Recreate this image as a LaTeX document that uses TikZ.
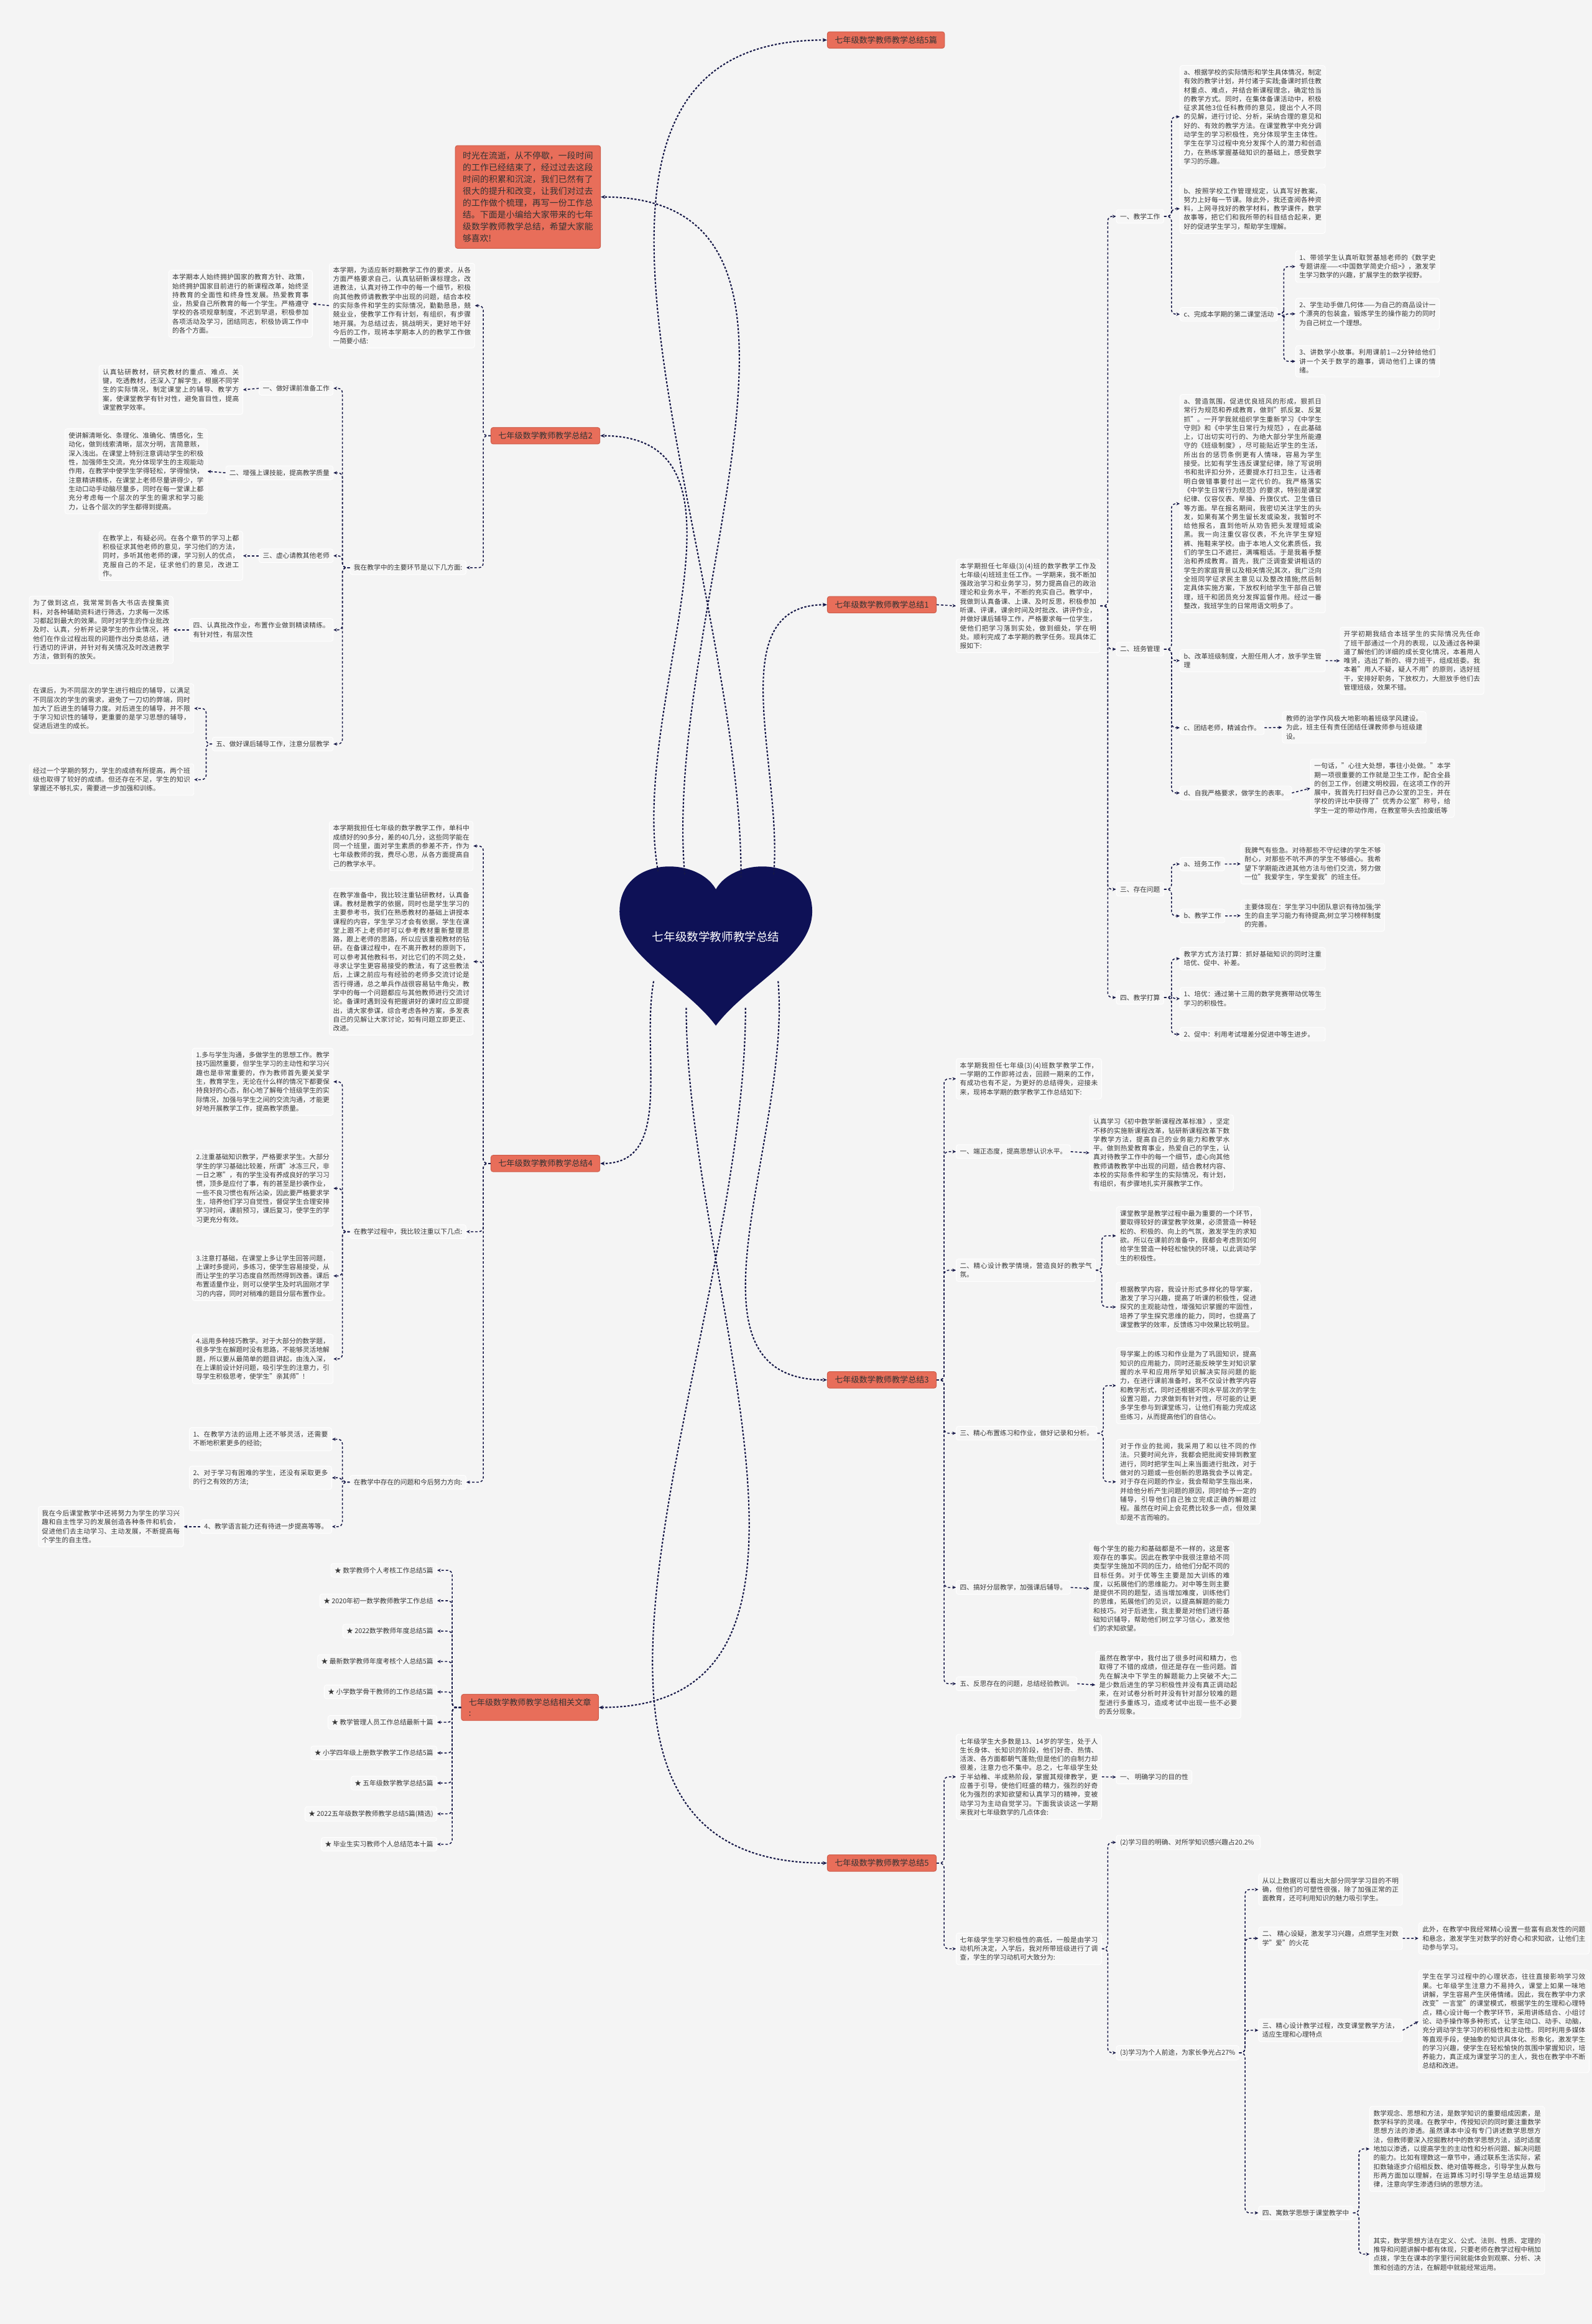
\documentclass[tikz,border=0pt]{standalone}
\usepackage{fontspec}
\setmainfont{Noto Sans CJK SC}
\usepackage{tikz}
\usetikzlibrary{arrows.meta, positioning, calc}
\XeTeXlinebreaklocale "zh"
\XeTeXlinebreakskip=0pt plus 1pt
\definecolor{pagegray}  {RGB}{244,244,244}
\definecolor{boxfill}   {RGB}{247,247,247}
\definecolor{txtgray}   {RGB}{55,55,55}
\definecolor{branchred} {RGB}{232,110,90}
\definecolor{branchdark}{RGB}{205,92,74}
\definecolor{heartnavy} {RGB}{14,17,86}
\definecolor{linenavy}  {RGB}{22,24,72}
\tikzset{
	box/.style={draw=white, fill=boxfill, rounded corners=1.5pt, inner sep=2.5pt, text=txtgray, font=\fontsize{4.5}{6.0}\selectfont},
	leaf/.style={box, text width=#1pt, align=justify},
	lbl/.style={box, align=left},
	branch/.style={draw=branchdark, fill=branchred, rounded corners=1.5pt, inner xsep=5pt, inner ysep=3pt, text=black!80, font=\fontsize{5.5}{7}\selectfont},
	trunk/.style={draw=linenavy, line width=0.9pt, dash pattern=on 1.4pt off 1.1pt, -{Stealth[length=3pt,width=2.6pt]}},
	twig/.style={draw=linenavy, line width=0.65pt, dash pattern=on 1.6pt off 1.3pt, rounded corners=3pt, -{Stealth[length=2.4pt,width=2.2pt]}}
}
\begin{document}
\begin{tikzpicture}[x=1pt,y=1pt]
\fill[pagegray] (0,0) rectangle (1074,-1568);
\useasboundingbox (0,0) rectangle (1074,-1568);
% heart
\fill[heartnavy] (483,-600) .. controls (470,-577) and (418,-578) .. (418,-615) .. controls (418,-645) and (462,-664) .. (483,-692) .. controls (504,-664) and (548,-645) .. (548,-615) .. controls (548,-578) and (496,-577) .. (483,-600) -- cycle;
\node[text=white, font=\fontsize{7.8}{9}\selectfont] (heart) at (483,-632) {七年级数学教师教学总结};
\coordinate (h1) at (500,-592); \coordinate (h2) at (522,-590);
\coordinate (h3) at (525,-662); \coordinate (h4) at (503,-680);
\coordinate (h5) at (462,-590); \coordinate (h6) at (444,-588);
\coordinate (h7) at (441,-662); \coordinate (h8) at (463,-680);
% branches
\node[branch, anchor=north west, text width=88pt, inner xsep=5pt, inner ysep=4pt, align=justify, font=\fontsize{5.8}{8}\selectfont] (intro) at (307,-98) {时光在流逝，从不停歇，一段时间的工作已经结束了，经过过去这段时间的积累和沉淀，我们已然有了很大的提升和改变，让我们对过去的工作做个梳理，再写一份工作总结。下面是小编给大家带来的七年级数学教师教学总结，希望大家能够喜欢!};
\node[branch, anchor=west] (b5p) at (558,-27) {七年级数学教师教学总结5篇};
\node[branch, anchor=west] (b1) at (558,-408) {七年级数学教师教学总结1};
\node[branch, anchor=west] (b3) at (558,-931) {七年级数学教师教学总结3};
\node[branch, anchor=west] (b5) at (558,-1257) {七年级数学教师教学总结5};
\node[branch, anchor=east] (b2) at (405,-294) {七年级数学教师教学总结2};
\node[branch, anchor=east] (b4) at (405,-785) {七年级数学教师教学总结4};
\node[branch, anchor=east, align=left] (rel) at (404,-1152) {七年级数学教师教学总结相关文章\\:};
\draw[trunk] (h1) to[out=90,in=180] (b5p.west);
\draw[trunk] (h2) to[out=85,in=180] (b1.west);
\draw[trunk] (h3) to[out=-85,in=180] (b3.west);
\draw[trunk] (h4) to[out=-90,in=180] (b5.west);
\draw[trunk] (h5) to[out=95,in=0] (intro.east);
\draw[trunk] (h6) to[out=100,in=0] (b2.east);
\draw[trunk] (h7) to[out=-100,in=0] (b4.east);
\draw[trunk] (h8) to[out=-90,in=0] (rel.east);
% summary 1
\node[leaf=92, anchor=north west] (p1in) at (645,-377) {本学期担任七年级(3)(4)班的数学教学工作及七年级(4)班班主任工作。一学期来，我不断加强政治学习和业务学习，努力提高自己的政治理论和业务水平，不断的充实自己。教学中，我做到认真备课、上课、及时反思，积极参加听课、评课，课余时间及时批改、讲评作业，并做好课后辅导工作，严格要求每一位学生，使他们把学习落到实处，做到细处，学在明处。顺利完成了本学期的教学任务。现具体汇报如下:};
\node[lbl, anchor=west] (t1) at (753,-146) {一、教学工作};
\node[lbl, anchor=west] (t2) at (753,-438) {二、班务管理};
\node[lbl, anchor=west] (t3) at (753,-600) {三、存在问题};
\node[lbl, anchor=west] (t4) at (753,-673) {四、教学打算};
\node[leaf=93, anchor=north west] (t1a) at (796,-44) {a、根据学校的实际情形和学生具体情况，制定有效的教学计划，并付诸于实践;备课时抓住教材重点、难点，并结合新课程理念，确定恰当的教学方式。同时，在集体备课活动中，积极征求其他3位任科教师的意见，提出个人不同的见解，进行讨论、分析，采纳合理的意见和好的、有效的教学方法。在课堂教学中充分调动学生的学习积极性，充分体现学生主体性。学生在学习过程中充分发挥个人的潜力和创造力，在熟练掌握基础知识的基础上，感受数学学习的乐趣。};
\node[leaf=93, anchor=north west] (t1b) at (796,-124) {b、按照学校工作管理规定，认真写好教案，努力上好每一节课。除此外，我还查阅各种资料，上网寻找好的教学材料，教学课件，数学故事等，把它们和我所带的科目结合起来，更好的促进学生学习，帮助学生理解。};
\node[lbl, anchor=west] (t1c) at (796,-212) {c、完成本学期的第二课堂活动};
\node[leaf=92, anchor=north west] (c1) at (874,-169) {1、带领学生认真听取贺基旭老师的《数学史专题讲座——<中国数学简史介绍>》，激发学生学习数学的兴趣，扩展学生的数学视野。};
\node[leaf=92, anchor=north west] (c2) at (874,-201) {2、学生动手做几何体——为自己的商品设计一个漂亮的包装盒，锻炼学生的操作能力的同时为自己树立一个理想。};
\node[leaf=92, anchor=north west] (c3) at (874,-233) {3、讲数学小故事。利用课前1—2分钟给他们讲一个关于数学的趣事，调动他们上课的情绪。};
\node[leaf=93, anchor=north west] (t2a) at (796,-266) {a、营造氛围，促进优良班风的形成，狠抓日常行为规范和养成教育，做到"抓反复、反复抓"。一开学我就组织学生重新学习《中学生守则》和《中学生日常行为规范》，在此基础上，订出切实可行的、为绝大部分学生所能遵守的《班级制度》，尽可能贴近学生的生活，所出台的惩罚条例更有人情味，容易为学生接受。比如有学生违反课堂纪律，除了写说明书和批评扣分外，还要提水打扫卫生，让违者明白做错事要付出一定代价的。我严格落实《中学生日常行为规范》的要求，特别是课堂纪律、仪容仪表、早操、升旗仪式、卫生值日等方面。早在报名期间，我密切关注学生的头发，如果有某个男生留长发或染发，我暂时不给他报名，直到他听从劝告把头发理短或染黑。我一向注重仪容仪表，不允许学生穿短裤、拖鞋来学校。由于本地人文化素质低，我们的学生口不遮拦，满嘴粗话。于是我着手整治和养成教育。首先，我广泛调查爱讲粗话的学生的家庭背景以及相关情况;其次，我广泛向全班同学征求民主意见以及整改措施;然后制定具体实施方案，下放权利给学生干部自己管理，班干和团员充分发挥监督作用。经过一番整改，我班学生的日常用语文明多了。};
\node[leaf=93, anchor=north west] (t2b) at (796,-438) {b、改革班级制度，大胆任用人才，放手学生管理};
\node[leaf=92, anchor=north west] (t2bl) at (904,-423) {开学初期我结合本班学生的实际情况先任命了班干部通过一个月的表现，以及通过各种渠道了解他们的详细的成长变化情况，本着用人唯贤，选出了新的、得力班干，组成班委。我本着"用人不疑，疑人不用"的原则，选好班干，安排好职务，下放权力，大胆放手他们去管理班级，效果不错。};
\node[lbl, anchor=west] (t2c) at (796,-491) {c、团结老师，精诚合作。};
\node[leaf=92, anchor=north west] (t2cl) at (865,-480) {教师的治学作风极大地影响着班级学风建设。为此，班主任有责任团结任课教师参与班级建设。};
\node[lbl, anchor=west] (t2d) at (796,-535) {d、自我严格要求，做学生的表率。};
\node[leaf=92, anchor=north west] (t2dl) at (884,-512) {一句话，"心往大处想，事往小处做。"本学期一项很重要的工作就是卫生工作，配合全县的创卫工作，创建文明校园，在这项工作的开展中，我首先打扫好自己办公室的卫生，并在学校的评比中获得了"优秀办公室"称号，给学生一定的带动作用，在教室带头去捡废纸等};
\node[lbl, anchor=west] (t3a) at (796,-583) {a、班务工作};
\node[leaf=92, anchor=north west] (t3al) at (837,-569) {我脾气有些急。对待那些不守纪律的学生不够耐心，对那些不吭不声的学生不够细心。我希望下学期能改进其他方法与他们交流，努力做一位"我爱学生，学生爱我"的班主任。};
\node[lbl, anchor=west] (t3b) at (796,-618) {b、教学工作};
\node[leaf=92, anchor=north west] (t3bl) at (837,-607) {主要体现在：学生学习中团队意识有待加强;学生的自主学习能力有待提高;树立学习榜样制度的完善。};
\node[leaf=93, anchor=north west] (t4a) at (796,-639) {教学方式方法打算：抓好基础知识的同时注重培优、促中、补差。};
\node[leaf=93, anchor=north west] (t4b) at (796,-666) {1、培优：通过第十三周的数学竞赛带动优等生学习的积极性。};
\node[leaf=93, anchor=north west] (t4c) at (796,-693) {2、促中：利用考试增差分促进中等生进步。};
\draw[twig] (b1.east) -- (p1in.west);
\foreach \n in {t1,t2,t3,t4}{\draw[twig] (p1in.east) -- ++(5,0) |- (\n.west);}
\foreach \n in {t1a,t1b,t1c}{\draw[twig] (t1.east) -- ++(5,0) |- (\n.west);}
\foreach \n in {c1,c2,c3}{\draw[twig] (t1c.east) -- ++(4,0) |- (\n.west);}
\foreach \n in {t2a,t2b,t2c,t2d}{\draw[twig] (t2.east) -- ++(5,0) |- (\n.west);}
\draw[twig] (t2b.east) -- (t2bl.west);
\draw[twig] (t2c.east) -- (t2cl.west);
\draw[twig] (t2d.east) -- (t2dl.west);
\foreach \n in {t3a,t3b}{\draw[twig] (t3.east) -- ++(5,0) |- (\n.west);}
\draw[twig] (t3a.east) -- (t3al.west);
\draw[twig] (t3b.east) -- (t3bl.west);
\foreach \n in {t4a,t4b,t4c}{\draw[twig] (t4.east) -- ++(5,0) |- (\n.west);}
% summary 3
\node[leaf=93, anchor=north west] (in3) at (645,-714) {本学期我担任七年级(3)(4)班数学教学工作，一学期的工作即将过去，回顾一期来的工作，有成功也有不足，为更好的总结得失，迎接未来，现将本学期的数学教学工作总结如下:};
\node[lbl, anchor=west] (s1) at (645,-777) {一、端正态度，提高思想认识水平。};
\node[leaf=89, anchor=west] (s2) at (645,-857) {二、精心设计教学情境，营造良好的教学气氛。};
\node[lbl, anchor=west] (s3) at (645,-967) {三、精心布置练习和作业，做好记录和分析。};
\node[lbl, anchor=west] (s4) at (645,-1071) {四、搞好分层教学，加强课后辅导。};
\node[lbl, anchor=west] (s5) at (645,-1136) {五、反思存在的问题，总结经验教训。};
\node[leaf=92, anchor=north west] (s1l) at (735,-752) {认真学习《初中数学新课程改革标准》，坚定不移的实施新课程改革，钻研新课程改革下数学教学方法，提高自己的业务能力和教学水平。做到热爱教育事业，热爱自己的学生，认真对待教学工作中的每一个细节，虚心向其他教师请教教学中出现的问题，结合教材内容、本校的实际条件和学生的实际情况，有计划，有组织，有步骤地扎实开展教学工作。};
\node[leaf=92, anchor=north west] (s2a) at (753,-814) {课堂教学是教学过程中最为重要的一个环节，要取得较好的课堂教学效果，必须营造一种轻松的、积极的、向上的气氛，激发学生的求知欲。所以在课前的准备中，我都会考虑到如何给学生营造一种轻松愉快的环境，以此调动学生的积极性。};
\node[leaf=92, anchor=north west] (s2b) at (753,-865) {根据教学内容，我设计形式多样化的导学案，激发了学习兴趣，提高了听课的积极性，促进探究的主观能动性，增强知识掌握的牢固性，培养了学生探究思维的能力，同时，也提高了课堂教学的效率，反馈练习中效果比较明显。};
\node[leaf=92, anchor=north west] (s3a) at (753,-909) {导学案上的练习和作业是为了巩固知识，提高知识的应用能力，同时还能反映学生对知识掌握的水平和应用所学知识解决实际问题的能力，在进行课前准备时，我不仅设计教学内容和教学形式，同时还根据不同水平层次的学生设置习题，力求做到有针对性，尽可能的让更多学生参与到课堂练习，让他们有能力完成这些练习，从而提高他们的自信心。};
\node[leaf=92, anchor=north west] (s3b) at (753,-971) {对于作业的批阅，我采用了和以往不同的作法。只要时间允许，我都会把批阅安排到教室进行，同时把学生叫上来当面进行批改，对于做对的习题或一些创新的思路我会予以肯定。对于存在问题的作业，我会帮助学生指出来，并给他分析产生问题的原因，同时给予一定的辅导，引导他们自己独立完成正确的解题过程。虽然在时间上会花费比较多一点，但效果却是不言而喻的。};
\node[leaf=92, anchor=north west] (s4l) at (735,-1040) {每个学生的能力和基础都是不一样的，这是客观存在的事实。因此在教学中我很注意给不同类型学生施加不同的压力，给他们分配不同的目标任务。对于优等生主要是加大训练的难度，以拓展他们的思维能力。对中等生则主要是提供不同的题型，适当增加难度，训练他们的思维，拓展他们的见识，以提高解题的能力和技巧。对于后进生，我主要是对他们进行基础知识辅导，帮助他们树立学习信心，激发他们的求知欲望。};
\node[leaf=93, anchor=north west] (s5l) at (739,-1114) {虽然在教学中，我付出了很多时间和精力，也取得了不错的成绩，但还是存在一些问题。首先在解决中下学生的解题能力上突破不大;二是少数后进生的学习积极性并没有真正调动起来，在对试卷分析时并没有针对部分较难的题型进行多重练习，造成考试中出现一些不必要的丢分现象。};
\foreach \n in {in3,s1,s2,s3,s4,s5}{\draw[twig] (b3.east) -- ++(5,0) |- (\n.west);}
\draw[twig] (s1.east) -- (s1l.west);
\foreach \n in {s2a,s2b}{\draw[twig] (s2.east) -- ++(4,0) |- (\n.west);}
\foreach \n in {s3a,s3b}{\draw[twig] (s3.east) -- ++(4,0) |- (\n.west);}
\draw[twig] (s4.east) -- (s4l.west);
\draw[twig] (s5.east) -- (s5l.west);
% summary 5
\node[leaf=93, anchor=north west] (in5a) at (645,-1170) {七年级学生大多数是13、14岁的学生，处于人生长身体、长知识的阶段，他们好奇、热情、活泼、各方面都朝气蓬勃;但是他们的自制力却很差，注意力也不集中。总之，七年级学生处于半幼稚、半成熟阶段，掌握其规律教学，更应善于引导，使他们旺盛的精力，强烈的好奇化为强烈的求知欲望和认真学习的精神，变被动学习为主动自觉学习。下面我谈谈这一学期来我对七年级数学的几点体会:};
\node[lbl, anchor=west] (q1) at (753,-1199) {一、 明确学习的目的性};
\node[leaf=93, anchor=north west] (in5b) at (645,-1304) {七年级学生学习积极性的高低，一般是由学习动机所决定，入学后，我对所带班级进行了调查，学生的学习动机可大致分为:};
\node[leaf=92, anchor=north west] (q2) at (753,-1238) {(2)学习目的明确、对所学知识感兴趣占20.2\%};
\node[lbl, anchor=west] (q3) at (753,-1385) {(3)学习为个人前途，为家长争光占27\%};
\node[leaf=92, anchor=north west] (r1) at (849,-1264) {从以上数据可以看出大部分同学学习目的不明确，但他们的可塑性很强，除了加强正常的正面教育，还可利用知识的魅力吸引学生。};
\node[leaf=92, anchor=north west] (r2) at (849,-1300) {二、 精心设疑，激发学习兴趣，点燃学生对数学"爱"的火花};
\node[leaf=92, anchor=north west] (r3) at (849,-1362) {三、精心设计教学过程，改变课堂教学方法，适应生理和心理特点};
\node[lbl, anchor=west] (r4) at (849,-1493) {四、寓数学思想于课堂教学中};
\node[leaf=110, anchor=north west] (r2l) at (957,-1297) {此外，在教学中我经常精心设置一些富有启发性的问题和悬念，激发学生对数学的好奇心和求知欲，让他们主动参与学习。};
\node[leaf=110, anchor=north west] (r3l) at (957,-1329) {学生在学习过程中的心理状态，往往直接影响学习效果。七年级学生注意力不易持久，课堂上如果一味地讲解，学生容易产生厌倦情绪。因此，我在教学中力求改变"一言堂"的课堂模式，根据学生的生理和心理特点，精心设计每一个教学环节，采用讲练结合、小组讨论、动手操作等多种形式，让学生动口、动手、动脑，充分调动学生学习的积极性和主动性。同时利用多媒体等直观手段，使抽象的知识具体化、形象化，激发学生的学习兴趣，使学生在轻松愉快的氛围中掌握知识，培养能力，真正成为课堂学习的主人，我也在教学中不断总结和改进。};
\node[leaf=113, anchor=north west] (r4a) at (924,-1421) {数学观念、思想和方法，是数学知识的重要组成因素，是数学科学的灵魂。在教学中，传授知识的同时要注重数学思想方法的渗透。虽然课本中没有专门讲述数学思想方法，但教师要深入挖掘教材中的数学思想方法，适时适度地加以渗透，以提高学生的主动性和分析问题、解决问题的能力。比如有理数这一章节中，通过联系生活实际，紧扣数轴逐步介绍相反数、绝对值等概念，引导学生从数与形两方面加以理解，在运算练习时引导学生总结运算规律，注意向学生渗透归纳的思想方法。};
\node[leaf=113, anchor=north west] (r4b) at (924,-1507) {其实，数学思想方法在定义、公式、法则、性质、定理的推导和问题讲解中都有体现，只要老师在教学过程中稍加点拨，学生在课本的字里行间就能体会到观察、分析、决策和创造的方法，在解题中就能经常运用。};
\foreach \n in {in5a,in5b}{\draw[twig] (b5.east) -- ++(5,0) |- (\n.west);}
\draw[twig] (in5a.east) -- (q1.west);
\foreach \n in {q2,q3}{\draw[twig] (in5b.east) -- ++(4,0) |- (\n.west);}
\foreach \n in {r1,r2,r3,r4}{\draw[twig] (q3.east) -- ++(4,0) |- (\n.west);}
\draw[twig] (r2.east) -- (r2l.west);
\draw[twig] (r3.east) -- (r3l.west);
\foreach \n in {r4a,r4b}{\draw[twig] (r4.east) -- ++(4,0) |- (\n.west);}
% summary 2
\node[leaf=93, anchor=south west] (in2r) at (222,-235) {本学期，为适应新时期教学工作的要求，从各方面严格要求自己，认真钻研新课标理念，改进教法，认真对待工作中的每一个细节，积极向其他教师请教教学中出现的问题，结合本校的实际条件和学生的实际情况，勤勤恳恳，兢兢业业，使教学工作有计划，有组织，有步骤地开展。为总结过去，挑战明天，更好地干好今后的工作，现将本学期本人的的教学工作做一简要小结:};
\node[leaf=92, anchor=east] (in2l) at (211,-205) {本学期本人始终拥护国家的教育方针、政策，始终拥护国家目前进行的新课程改革，始终坚持教育的全面性和终身性发展。热爱教育事业，热爱自己所教育的每一个学生。严格遵守学校的各项规章制度，不迟到早退，积极参加各项活动及学习，团结同志，积极协调工作中的各个方面。};
\node[lbl, anchor=west] (main2) at (236,-383) {我在教学中的主要环节是以下几方面:};
\node[lbl, anchor=east] (k1) at (225,-262) {一、做好课前准备工作};
\node[lbl, anchor=east] (k2) at (225,-319) {二、增强上课技能，提高教学质量};
\node[lbl, anchor=east] (k3) at (225,-375) {三、虚心请教其他老师};
\node[leaf=92, anchor=east] (k4) at (225,-425) {四、认真批改作业，布置作业做到精读精练。有针对性，有层次性};
\node[lbl, anchor=east] (k5) at (225,-502) {五、做好课后辅导工作，注意分层教学};
\node[leaf=92, anchor=east] (k1l) at (164,-263) {认真钻研教材，研究教材的重点、难点、关键，吃透教材，还深入了解学生，根据不同学生的实际情况，制定课堂上的辅导、教学方案，使课堂教学有针对性，避免盲目性，提高课堂教学效率。};
\node[leaf=91, anchor=east] (k2l) at (140,-318) {使讲解清晰化、条理化、准确化、情感化，生动化，做到线索清晰，层次分明，言简意赅，深入浅出。在课堂上特别注意调动学生的积极性，加强师生交流，充分体现学生的主观能动作用，在教学中使学生学得轻松，学得愉快，注意精讲精练，在课堂上老师尽量讲得少，学生动口动手动脑尽量多，同时在每一堂课上都充分考虑每一个层次的学生的需求和学习能力，让各个层次的学生都得到提高。};
\node[leaf=92, anchor=east] (k3l) at (164,-375) {在教学上，有疑必问。在各个章节的学习上都积极征求其他老师的意见，学习他们的方法，同时，多听其他老师的课，学习别人的优点，克服自己的不足，征求他们的意见，改进工作。};
\node[leaf=92, anchor=east] (k4l) at (117,-425) {为了做到这点，我常常到各大书店去搜集资料，对各种辅助资料进行筛选，力求每一次练习都起到最大的效果。同时对学生的作业批改及时、认真，分析并记录学生的作业情况，将他们在作业过程出现的问题作出分类总结，进行透切的评讲，并针对有关情况及时改进教学方法，做到有的放矢。};
\node[leaf=106, anchor=east] (k5a) at (131,-478) {在课后，为不同层次的学生进行相应的辅导，以满足不同层次的学生的需求，避免了一刀切的弊端，同时加大了后进生的辅导力度。对后进生的辅导，并不限于学习知识性的辅导，更重要的是学习思想的辅导，促进后进生的成长。};
\node[leaf=106, anchor=east] (k5b) at (131,-526) {经过一个学期的努力，学生的成绩有所提高，两个班级也取得了较好的成绩。但还存在不足，学生的知识掌握还不够扎实，需要进一步加强和训练。};
\foreach \n in {in2r,main2}{\draw[twig] (b2.west) -- ++(-5,0) |- (\n.east);}
\draw[twig] (in2r.west) -- (in2l.east);
\foreach \n in {k1,k2,k3,k4,k5}{\draw[twig] (main2.west) -- ++(-5,0) |- (\n.east);}
\foreach \n in {k1,k2,k3,k4}{\draw[twig] (\n.west) -- (\n l.east);}
\foreach \n in {k5a,k5b}{\draw[twig] (k5.west) -- ++(-4,0) |- (\n.east);}
% summary 4
\node[leaf=92, anchor=north west] (in4) at (222,-554) {本学期我担任七年级的数学教学工作，单科中成绩好的90多分，差的40几分，这些同学能在同一个班里，面对学生素质的参差不齐，作为七年级教师的我，费尽心思，从各方面提高自己的教学水平。};
\node[leaf=92, anchor=north west] (prep) at (222,-599) {在教学准备中，我比较注重钻研教材，认真备课。教材是教学的依据，同时也是学生学习的主要参考书，我们在熟悉教材的基础上讲授本课程的内容，学生学习才会有依据，学生在课堂上跟不上老师时可以参考教材重新整理思路，跟上老师的思路，所以应该重视教材的钻研。在备课过程中，在不离开教材的原则下，可以参考其他教科书，对比它们的不同之处，寻求让学生更容易接受的教法，有了这些教法后，上课之前应与有经验的老师多交流讨论是否行得通，总之单兵作战很容易钻牛角尖，教学中的每一个问题都应与其他教师进行交流讨论。备课时遇到没有把握讲好的课时应立即提出，请大家参谋，综合考虑各种方案，多发表自己的见解让大家讨论，如有问题立即更正、改进。};
\node[lbl, anchor=west] (proc) at (236,-831) {在教学过程中，我比较注重以下几点:};
\node[lbl, anchor=west] (iss) at (236,-1000) {在教学中存在的问题和今后努力方向:};
\node[leaf=90, anchor=north east] (g1) at (225,-707) {1.多与学生沟通，多做学生的思想工作。教学技巧固然重要，但学生学习的主动性和学习兴趣也是非常重要的，作为教师首先要关爱学生，教育学生，无论在什么样的情况下都要保持良好的心态，耐心地了解每个班级学生的实际情况，加强与学生之间的交流沟通，才能更好地开展教学工作，提高教学质量。};
\node[leaf=90, anchor=north east] (g2) at (225,-776) {2.注重基础知识教学，严格要求学生。大部分学生的学习基础比较差，所谓"冰冻三尺，非一日之寒"，有的学生没有养成良好的学习习惯，顶多是应付了事，有的甚至是抄袭作业，一些不良习惯也有所沾染，因此要严格要求学生，培养他们学习自觉性，督促学生合理安排学习时间，课前预习，课后复习，使学生的学习更充分有效。};
\node[leaf=90, anchor=north east] (g3) at (225,-844) {3.注意打基础，在课堂上多让学生回答问题，上课时多提问，多练习，使学生容易接受，从而让学生的学习态度自然而然得到改善。课后布置适量作业，则可以使学生及时巩固刚才学习的内容，同时对稍难的题目分层布置作业。};
\node[leaf=90, anchor=north east] (g4) at (225,-900) {4.运用多种技巧教学。对于大部分的数学题，很多学生在解题时没有思路，不能够灵活地解题，所以要从最简单的题目讲起，由浅入深，在上课前设计好问题，吸引学生的注意力，引导学生积极思考，使学生"亲其师"!};
\node[leaf=91, anchor=north east] (i1) at (224,-963) {1、在教学方法的运用上还不够灵活，还需要不断地积累更多的经验;};
\node[leaf=91, anchor=north east] (i2) at (224,-989) {2、对于学习有困难的学生，还没有采取更多的行之有效的方法;};
\node[lbl, anchor=east] (i4) at (224,-1030) {4、教学语言能力还有待进一步提高等等。};
\node[leaf=93, anchor=east] (i4l) at (124,-1030) {我在今后课堂教学中还将努力为学生的学习兴趣和自主性学习的发展创造各种条件和机会，促进他们去主动学习、主动发展，不断提高每个学生的自主性。};
\foreach \n in {in4,prep,proc,iss}{\draw[twig] (b4.west) -- ++(-5,0) |- (\n.east);}
\foreach \n in {g1,g2,g3,g4}{\draw[twig] (proc.west) -- ++(-5,0) |- (\n.east);}
\foreach \n in {i1,i2,i4}{\draw[twig] (iss.west) -- ++(-5,0) |- (\n.east);}
\draw[twig] (i4.west) -- (i4l.east);
% related articles
\foreach \t/\y [count=\i] in {数学教师个人考核工作总结5篇/1059.5, 2020年初一数学教师教学工作总结/1080, 2022数学教师年度总结5篇/1100.5, 最新数学教师年度考核个人总结5篇/1121, 小学数学骨干教师的工作总结5篇/1141.5, 教学管理人员工作总结最新十篇/1162, 小学四年级上册数学教学工作总结5篇/1182.7, 五年级数学教学总结5篇/1203, 2022五年级数学教师教学总结5篇(精选)/1223.8, 毕业生实习教师个人总结范本十篇/1244.3}{
	\node[lbl, anchor=east] (art\i) at (295,-\y) {★ \t};
	\draw[twig] (rel.west) -- ++(-6,0) |- (art\i.east);
}
\end{tikzpicture}
\end{document}
